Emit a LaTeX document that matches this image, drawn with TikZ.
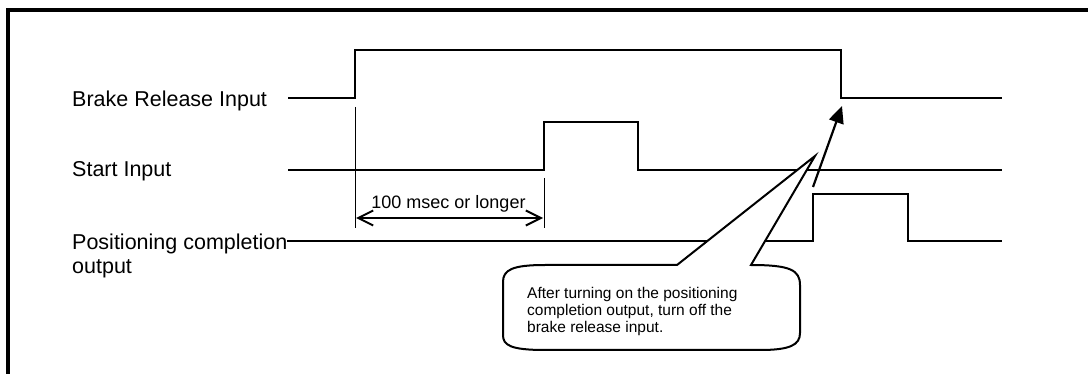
\documentclass[tikz,border=0pt]{standalone}
\usepackage{fontspec}
\setmainfont{Liberation Sans}
\usetikzlibrary{arrows.meta}
\begin{document}
\begin{tikzpicture}[x=1pt,y=-1pt,
  sig/.style={line width=2.2pt, line join=miter},
  tick/.style={line width=1pt},
  lbl/.style={anchor=north west, inner sep=0pt, align=left, font=\fontsize{21.5}{24}\selectfont},
  note/.style={anchor=north west, inner sep=0pt, align=left, font=\fontsize{15.5}{16.8}\selectfont},
  dimtxt/.style={anchor=base, inner sep=0pt, font=\fontsize{18}{20}\selectfont},
  dimarrow/.style={line width=2pt, {Straight Barb[length=15pt,width=15pt,line width=2pt]}-{Straight Barb[length=15pt,width=15pt,line width=2pt]}},
  bigarrow/.style={line width=2.2pt, -{Triangle[length=17pt,width=15pt]}},
  callout/.style={line width=2pt, fill=white, line join=miter}]
\useasboundingbox (0,0) rectangle (1088,374);
\fill[white] (0,0) rectangle (1088,374);
% frame
\draw[line width=3.5pt] (8,380) -- (8,10) -- (1095,10);

% labels
\node[lbl] (brake) at (72,90.3) {Brake Release Input};
\node[lbl] (start) at (72,161.3) {Start Input};
\node[lbl] (pos) at (72,233.3) {Positioning completion\\output};

% waveforms
\coordinate (b0) at (288,98);
\coordinate (b1) at (355,98);
\coordinate (b2) at (355,50);
\coordinate (b3) at (841,50);
\coordinate (b4) at (841,98);
\coordinate (b5) at (1002,98);
\draw[sig] (b0) -- (b1) -- (b2) -- (b3) -- (b4) -- (b5);

\coordinate (s0) at (288,170);
\coordinate (s1) at (544,170);
\coordinate (s2) at (544,122);
\coordinate (s3) at (638,122);
\coordinate (s4) at (638,170);
\coordinate (s5) at (1002,170);
\draw[sig] (s0) -- (s1) -- (s2) -- (s3) -- (s4) -- (s5);

\coordinate (p0) at (287,241);
\coordinate (p1) at (813,241);
\coordinate (p2) at (813,194);
\coordinate (p3) at (908,194);
\coordinate (p4) at (908,241);
\coordinate (p5) at (1002,241);
\draw[sig] (p0) -- (p1) -- (p2) -- (p3) -- (p4) -- (p5);

% dimension
\coordinate (t1a) at (355,107);
\coordinate (t1b) at (355,228);
\coordinate (t2a) at (544,178);
\coordinate (t2b) at (544,228);
\draw[tick] (t1a) -- (t1b);
\draw[tick] (t2a) -- (t2b);
\coordinate (d1) at (356,218);
\coordinate (d2) at (543,218);
\draw[dimarrow] (d1) -- (d2);
\node[dimtxt] (dim) at (448.5,209) {100 msec or longer};

% callout
\coordinate (apex) at (815,156);
\draw[callout] (677,265) -- (apex) -- (751,265)
  .. controls (790,265) and (800,270) .. (800,285) -- (800,333)
  .. controls (800,345) and (790,350) .. (760,350) -- (545,350)
  .. controls (510,350) and (503,345) .. (503,335) -- (503,282)
  .. controls (503,270) and (512,265) .. (545,265) -- cycle;
\node[note] (notetext) at (527,287) {After turning on the positioning\\completion output, turn off the\\brake release input.};

% arrow
\coordinate (atail) at (813,187);
\coordinate (ahead) at (842,106);
\draw[bigarrow] (atail) -- (ahead);
\end{tikzpicture}
\end{document}
